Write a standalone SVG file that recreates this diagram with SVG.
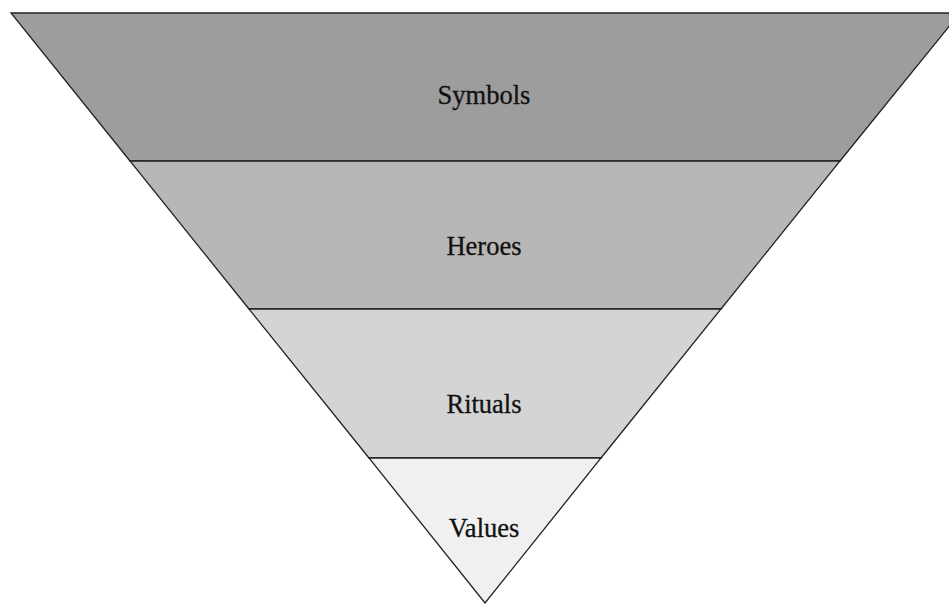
<svg xmlns="http://www.w3.org/2000/svg" width="949" height="604" viewBox="0 0 949 604">
<style>
.layer{stroke:#222;stroke-width:1.3;stroke-linejoin:miter}
.lbl{font-family:"Liberation Serif","DejaVu Serif",serif;font-size:26.5px;fill:#111;stroke:#111;stroke-width:0.3;text-anchor:middle}
</style>
<rect width="949" height="604" fill="#fff"/>
<g id="symbols">
<polygon class="layer" fill="#9d9d9d" points="11,13 960,13 840,161 130,161"/>
<text class="lbl" x="484" y="104">Symbols</text>
</g>
<g id="heroes">
<polygon class="layer" fill="#b7b7b7" points="130,161 840,161 721,309 249,309"/>
<text class="lbl" x="484" y="255">Heroes</text>
</g>
<g id="rituals">
<polygon class="layer" fill="#d4d4d4" points="249,309 721,309 601,458 369,458"/>
<text class="lbl" x="484" y="413">Rituals</text>
</g>
<g id="values">
<polygon class="layer" fill="#f0f0f0" points="369,458 601,458 485,603"/>
<text class="lbl" x="484" y="537">Values</text>
</g>
</svg>
